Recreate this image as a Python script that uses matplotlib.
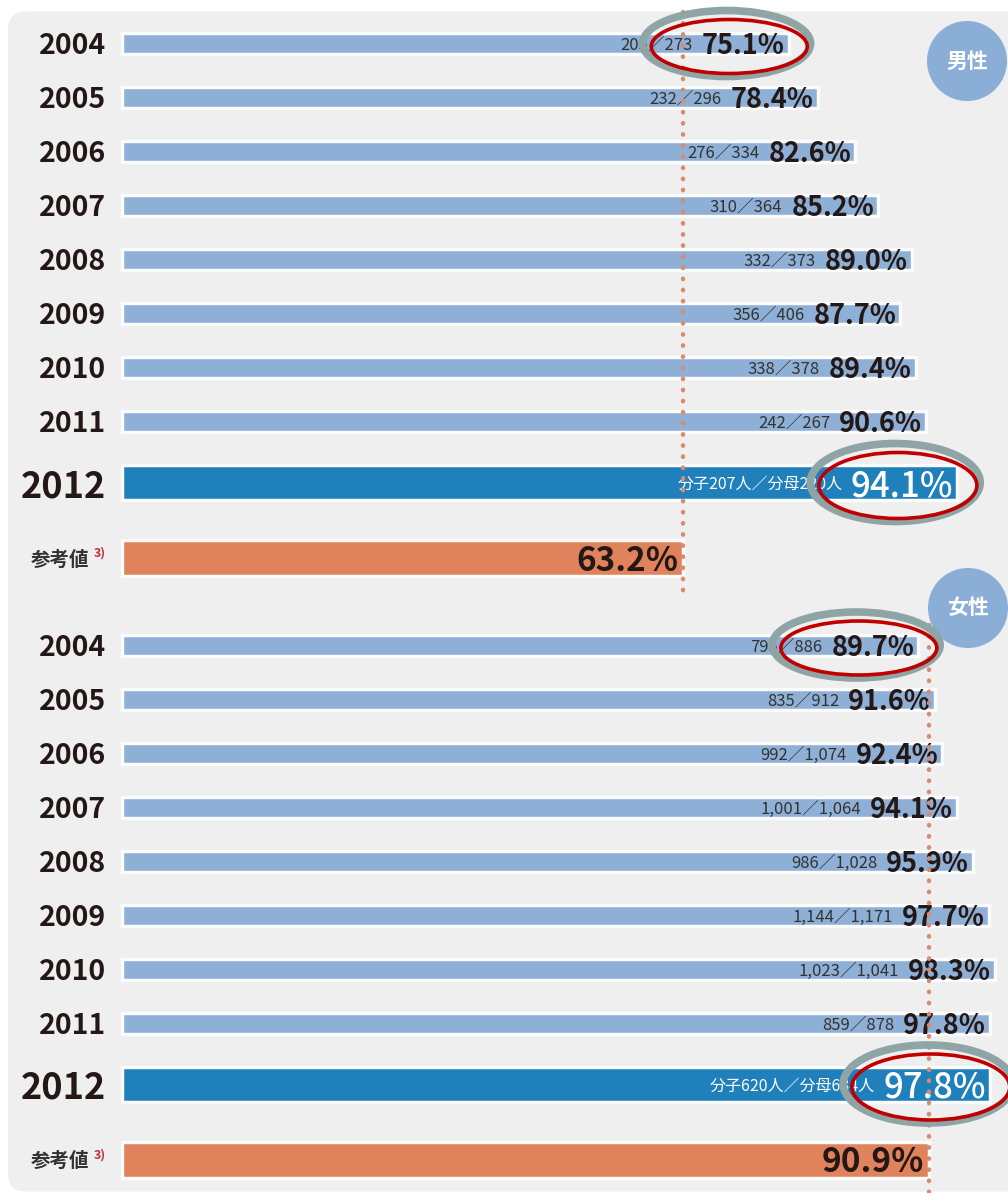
import matplotlib
matplotlib.use("Agg")
import matplotlib.pyplot as plt
from matplotlib.patches import Ellipse, FancyBboxPatch

plt.rcParams['font.family'] = ['Noto Sans CJK JP', 'DejaVu Sans']

years = ['2004', '2005', '2006', '2007', '2008', '2009', '2010', '2011', '2012']

male_num = [205, 232, 276, 310, 332, 356, 338, 242, 207]
male_den = [273, 296, 334, 364, 373, 406, 378, 267, 220]
male_pct = [75.1, 78.4, 82.6, 85.2, 89.0, 87.7, 89.4, 90.6, 94.1]
male_ref = 63.2

female_num = [795, 835, 992, 1001, 986, 1144, 1023, 859, 620]
female_den = [886, 912, 1074, 1064, 1028, 1171, 1041, 878, 634]
female_pct = [89.7, 91.6, 92.4, 94.1, 95.9, 97.7, 98.3, 97.8, 97.8]
female_ref = 90.9

circled = [0, 8]   # rows marked with the hand-drawn ellipses

ref_label = '参考値'
group_labels = ['男性', '女性']

# colours
c_bg = '#efefef'
c_bar = '#8fb0d6'
c_cur = '#1f80bb'
c_ref = '#e0825c'
c_text = '#231815'
c_dot = '#d98b70'
c_badge = '#8aaed6'

W, H = 1008, 1193
x0 = 122          # pixel where 0 % sits
ppx = 8.876       # pixels per percent

fig = plt.figure(figsize=(W / 100, H / 100), dpi=100)
fig.patch.set_facecolor('white')
bg = FancyBboxPatch((0.08, 0.015), 10.5, 11.8,
                    boxstyle='round,pad=0,rounding_size=0.18',
                    transform=fig.dpi_scale_trans,
                    facecolor=c_bg, edgecolor='none', zorder=-5)
fig.patches.append(bg)

ax = fig.add_axes([0, 0, 1, 1])
ax.set_xlim(-x0 / ppx, (W - x0) / ppx)
ax.set_ylim(H, 0)
ax.axis('off')
ax.patch.set_alpha(0)


def draw_group(pct, num, den, ref, top, label, badge_xy, line_span):
    ys = [top + 54 * i for i in range(8)] + [top + 439]
    y_ref = top + 514.5
    hs = [21] * 8 + [35]
    cols = [c_bar] * 8 + [c_cur]
    ax.barh(ys, pct, height=hs, color=cols, edgecolor='#fbfbfb', linewidth=2.5, zorder=2)
    ax.barh([y_ref], [ref], height=36, color=c_ref, edgecolor='#fbfbfb', linewidth=2.5, zorder=2)

    for i, (y, p, n, d) in enumerate(zip(ys, pct, num, den)):
        if i < 8:
            ax.annotate(years[i], (0, y), xytext=(-16, 0), textcoords='offset pixels',
                        ha='right', va='center_baseline', fontsize=20.5, fontweight='bold', color=c_text)
            ax.annotate(f'{p:.1f}%', (p, y), xytext=(-4, 0), textcoords='offset pixels',
                        ha='right', va='center_baseline', fontsize=19.5, fontweight='bold', color=c_text, zorder=3)
            ax.annotate(f'{n:,}／{d:,}', (p, y), xytext=(-96, 0), textcoords='offset pixels',
                        ha='right', va='center_baseline', fontsize=12, color='#333333', zorder=3)
        else:
            ax.annotate(years[i], (0, y), xytext=(-16, 0), textcoords='offset pixels',
                        ha='right', va='center_baseline', fontsize=26, fontweight='bold', color=c_text)
            ax.annotate(f'{p:.1f}%', (p, y), xytext=(-4, 0), textcoords='offset pixels',
                        ha='right', va='center_baseline', fontsize=25, fontweight='medium', color='white', zorder=3)
            ax.annotate(f'分子{n:,}人／分母{d:,}人', (p, y), xytext=(-115, 0), textcoords='offset pixels',
                        ha='right', va='center_baseline', fontsize=11.5, color='white', zorder=3)

    ax.annotate(ref_label, (0, y_ref), xytext=(-33, 0), textcoords='offset pixels',
                ha='right', va='center_baseline', fontsize=14, fontweight='bold', color='#333333')
    ax.annotate('3)', (0, y_ref), xytext=(-16, 6), textcoords='offset pixels',
                ha='right', va='center_baseline', fontsize=9, fontweight='bold', color='#c0303a')
    ax.annotate(f'{ref:.1f}%', (ref, y_ref), xytext=(-5, 0), textcoords='offset pixels',
                ha='right', va='center_baseline', fontsize=24, fontweight='bold', color=c_text, zorder=3)

    # dotted reference line
    ax.plot([ref, ref], line_span, color=c_dot, lw=3.2, linestyle=(0, (0.1, 2.4)),
            dash_capstyle='round', solid_capstyle='round', zorder=4)

    # hand drawn ellipses round the circled values
    for i in circled:
        cx = pct[i] - 62 / ppx
        w = 168 if i == 0 else 170
        h = 66 if i == 0 else 78
        ax.add_patch(Ellipse((cx, ys[i]), w / ppx, h, fill=False, edgecolor='#8fa5a5',
                             lw=5.5, zorder=5))
        ax.add_patch(Ellipse((cx + 0.3, ys[i] + 3), (w - 12) / ppx, h - 12, fill=False,
                             edgecolor='#c00000', lw=2.6, zorder=6))

    # badge
    bx, by = badge_xy
    ax.add_patch(Ellipse((bx, by), 80 / ppx, 80, facecolor=c_badge, edgecolor='none', zorder=1))
    ax.text(bx, by, label, ha='center', va='center', fontsize=15, fontweight='bold',
            color='white', zorder=2)


draw_group(male_pct, male_num, male_den, male_ref, 43.5, group_labels[0],
           ((967 - x0) / ppx, 61), (12, 598))
draw_group(female_pct, female_num, female_den, female_ref, 645, group_labels[1],
           ((968 - x0) / ppx, 608), (625, 1193))

fig.savefig('out.png', dpi=100)
